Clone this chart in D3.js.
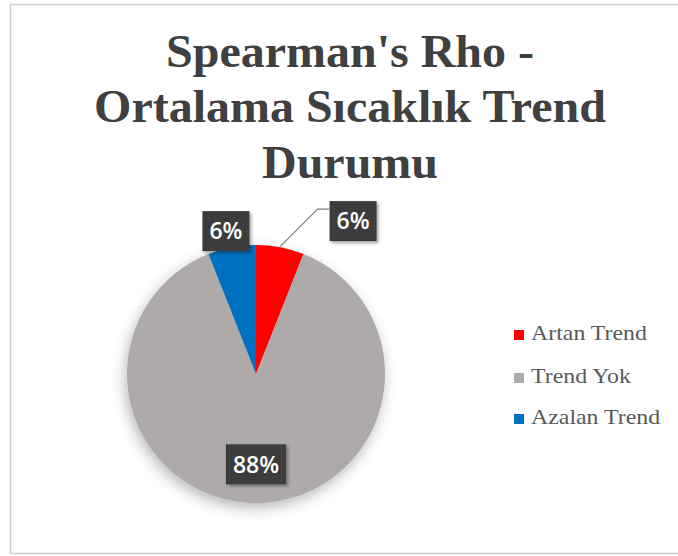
<!DOCTYPE html>
<html>
<head>
<meta charset="utf-8">
<title>Spearman's Rho - Ortalama Sıcaklık Trend Durumu</title>
<style>
  html, body { margin:0; padding:0; background:#fff; }
  svg { display:block; }
</style>
<script src="https://d3js.org/d3.v7.min.js"></script>
</head>
<body>
<svg id="chart"></svg>
<script>
// data
var categories = ["Artan Trend", "Trend Yok", "Azalan Trend"];
var values = [6, 88, 6];          // percent
var colors = ["#ff0000", "#aeaaaa", "#0070c0"];
var titleLines = ["Spearman's Rho -", "Ortalama Sıcaklık Trend", "Durumu"];

var width = 678, height = 556;
var cx = 256, cy = 374, radius = 129;

var svg = d3.select("#chart")
    .attr("width", width)
    .attr("height", height);

var defs = svg.append("defs");
var pieShadow = defs.append("filter").attr("id", "pieShadow")
    .attr("x", "-30%").attr("y", "-30%").attr("width", "160%").attr("height", "160%");
pieShadow.append("feDropShadow")
    .attr("dx", -2).attr("dy", 5).attr("stdDeviation", 7)
    .attr("flood-color", "#000").attr("flood-opacity", 0.28);
var boxShadow = defs.append("filter").attr("id", "boxShadow")
    .attr("x", "-30%").attr("y", "-30%").attr("width", "160%").attr("height", "160%");
boxShadow.append("feDropShadow")
    .attr("dx", 2).attr("dy", 2).attr("stdDeviation", 1.5)
    .attr("flood-color", "#000").attr("flood-opacity", 0.35);
// faint dotted texture of the label boxes
var pat = defs.append("pattern").attr("id", "dots")
    .attr("width", 4).attr("height", 4).attr("patternUnits", "userSpaceOnUse");
pat.append("rect").attr("width", 4).attr("height", 4).attr("fill", "#3b3b3b");
pat.append("circle").attr("cx", 1).attr("cy", 1).attr("r", 0.7).attr("fill", "#4a4a4a");

// frame
svg.append("rect")
    .attr("x", 10.5).attr("y", 4.5)
    .attr("width", 700).attr("height", 549)
    .attr("fill", "#fff")
    .attr("stroke", "#cfcfcf")
    .attr("stroke-width", 1.5);

// title (condensed look: measured then squeezed horizontally)
var titleWidths = [370, 512, 172];
var titleBase = [67, 122, 178];
var tg = svg.append("g")
    .attr("font-family", "'Liberation Serif', 'Times New Roman', serif")
    .attr("font-weight", "bold")
    .attr("font-size", 47)
    .attr("fill", "#404040");
var ref = tg.append("text").text(titleLines[1]);
var sx = titleWidths[1] / ref.node().getComputedTextLength();
ref.remove();
titleLines.forEach(function(t, i) {
  tg.append("text")
    .attr("transform", "translate(350," + titleBase[i] + ") scale(" + sx + ",1)")
    .attr("text-anchor", "middle")
    .text(t);
});

// pie
var pie = d3.pie().sort(null).value(function(d) { return d; });
var arcs = pie(values);
var arc = d3.arc().innerRadius(0).outerRadius(radius);

var pg = svg.append("g")
    .attr("transform", "translate(" + cx + "," + cy + ")");

pg.append("g").attr("filter", "url(#pieShadow)")
  .selectAll("path")
  .data(arcs)
  .enter().append("path")
    .attr("d", arc)
    .attr("fill", function(d, i) { return colors[i]; })
    .attr("stroke", "none");

// data labels
var labelArc = d3.arc().innerRadius(radius * 0.7).outerRadius(radius * 0.7);
var outerArc = d3.arc().innerRadius(radius * 1.12).outerRadius(radius * 1.12);
var edgeArc = d3.arc().innerRadius(radius + 1).outerRadius(radius + 1);
var nudges = [[70, -11], [0, 0], [-3, -1]];   // label placements as in original

var lg = pg.append("g");
arcs.forEach(function(d, i) {
  var p = (i === 1 ? labelArc : outerArc).centroid(d);
  var x = p[0] + nudges[i][0], y = p[1] + nudges[i][1];
  var g = lg.append("g").attr("transform", "translate(" + x + "," + y + ")");
  var t = g.append("text")
    .attr("text-anchor", "middle")
    .attr("dy", "0.36em")
    .attr("font-family", "'Open Sans', sans-serif")
    .attr("font-size", 23)
    .attr("font-weight", 600)
    .attr("fill", "#fff")
    .text(d3.format(".0f")(d.data) + "%");
  var w = t.node().getComputedTextLength() + 14, h = 40;
  g.insert("rect", "text")
    .attr("x", -w / 2).attr("y", -h / 2)
    .attr("width", w).attr("height", h)
    .attr("fill", "url(#dots)")
    .attr("filter", "url(#boxShadow)");
  if (i === 0) {
    var e = edgeArc.centroid(d);
    var bx = x - w / 2, by = y - 12;
    pg.insert("path", "g")
      .attr("d", "M" + bx + "," + by + "H" + (bx - 12) + "L" + e[0] + "," + e[1])
      .attr("fill", "none")
      .attr("stroke", "#7f7f7f")
      .attr("stroke-width", 1.2);
  }
});

// legend
var legX = 514, legY = [340, 383, 424];
var leg = svg.append("g")
    .attr("font-family", "'Liberation Serif', 'Times New Roman', serif")
    .attr("font-size", 22)
    .attr("fill", "#595959");
var lref = leg.append("text").text(categories[0]);
var lsx = 116 / lref.node().getComputedTextLength();
lref.remove();
categories.forEach(function(c, i) {
  leg.append("rect")
    .attr("x", legX).attr("y", legY[i] - 10)
    .attr("width", 10).attr("height", 10)
    .attr("fill", colors[i]);
  leg.append("text")
    .attr("transform", "translate(" + (legX + 17) + "," + legY[i] + ") scale(" + lsx + ",1)")
    .text(c);
});
</script>
</body>
</html>
